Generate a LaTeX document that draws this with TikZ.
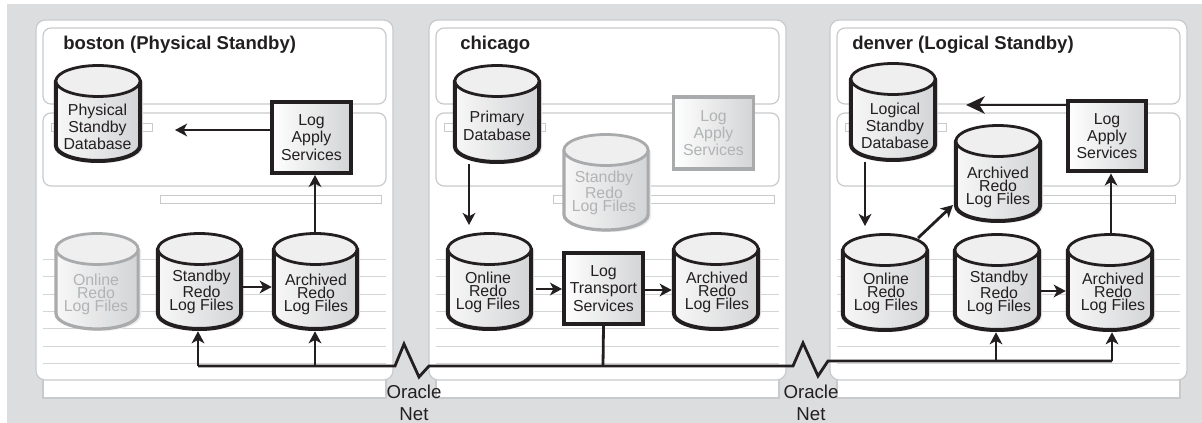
\documentclass[tikz,border=0pt]{standalone}
\usepackage{fontspec}
\setmainfont{Liberation Sans}
\usetikzlibrary{arrows.meta}
\definecolor{ink}{HTML}{231F20}
\definecolor{bgrey}{HTML}{DCDDDE}
\definecolor{edgegrey}{HTML}{C9CACC}
\definecolor{ghost}{HTML}{A9AAAC}
\definecolor{ghosttext}{HTML}{B2B3B5}
\definecolor{shadeend}{HTML}{D3D4D6}
\definecolor{captop}{HTML}{EFEFF0}
\tikzset{
  panelline/.style={draw=edgegrey,line width=0.9pt,fill=white},
  rowline/.style={draw=edgegrey!80,line width=0.7pt},
  titletext/.style={font=\fontsize{13.9}{16}\selectfont\bfseries,text=ink,anchor=west,inner sep=0pt},
  tight/.style={font=\fontsize{11.9}{9.7}\selectfont,align=center,inner sep=0pt,text=ink},
  loose/.style={font=\fontsize{11.9}{13}\selectfont,align=center,inner sep=0pt,text=ink},
  ghosted/.style={text=ghosttext},
  anchorbox/.style={inner sep=0pt,draw=none},
  svcbox/.style={draw=ink,line width=3.2pt,left color=white,right color=shadeend,inner sep=0pt,align=center,
     minimum width=59pt,minimum height=53pt,font=\fontsize{11.9}{13}\selectfont,text=ink},
  svcghost/.style={svcbox,draw=ghost,line width=2.4pt,text=ghosttext,minimum width=60pt,minimum height=54pt},
  conn/.style={draw=ink,line width=2.1pt,-{Stealth[length=9pt,width=9.5pt,inset=2.5pt]}},
  bigconn/.style={draw=ink,line width=2.1pt,-{Stealth[length=14pt,width=13pt,inset=4pt]}},
  plainconn/.style={draw=ink,line width=2.1pt,line join=miter},
  nettext/.style={font=\fontsize{14}{16.5}\selectfont,align=center,inner sep=0pt,text=ink},
}
% line width, left, top, right, bottom (outer edges), ink colour
\newcommand{\dbcyl}[6]{%
  \pgfmathsetmacro{\cylxa}{#2+1.9}\pgfmathsetmacro{\cylxb}{#4-1.9}
  \pgfmathsetmacro{\cylcx}{(#2+#4)/2}\pgfmathsetmacro{\cylrx}{(\cylxb-\cylxa)/2}
  \pgfmathsetmacro{\cylyt}{#3+17}\pgfmathsetmacro{\cylyb}{#5-17.5}
  \fill[black!8] (\cylxa+3,\cylyt+1) -- (\cylxa+3,\cylyb+2) arc[start angle=180,end angle=0,x radius=\cylrx,y radius=15.5] -- (\cylxb+3,\cylyt+1) -- cycle;
  \draw[#6,line width=#1,left color=white!97!black,right color=shadeend,line join=round]
    (\cylxa,\cylyt) -- (\cylxa,\cylyb) arc[start angle=180,end angle=0,x radius=\cylrx,y radius=15.5] -- (\cylxb,\cylyt) -- cycle;
  \draw[#6,line width=2.1pt,fill=captop] (\cylcx,\cylyt) ellipse[x radius=\cylrx,y radius=15.5];
}
\begin{document}
\begin{tikzpicture}[x=0.75pt,y=-0.75pt]
\useasboundingbox (0,0) rectangle (1202,423);
\fill[bgrey] (7,4) rectangle (1202,423);
% panels
\foreach \o in {0,393,794}{
  \begin{scope}[xshift=\o*0.75pt]
    \draw[draw=edgegrey,line width=1.1pt,fill=white] (43,370) rectangle (386,398);
    \draw[panelline,rounded corners=7pt] (36,20) rectangle (393,380);
    \draw[panelline,rounded corners=6pt] (43,28) rectangle (386,104);
    \draw[panelline,rounded corners=6pt] (43,113) rectangle (386,186);
    \draw[panelline,line width=0.7pt] (160,195) rectangle (381,203);
    \draw[panelline,line width=0.7pt] (51,123) rectangle (152,131);
    \foreach \y in {259,276.5,294,311,328.5,346,363.5}{\draw[rowline] (43,\y) -- (386,\y);}
  \end{scope}
}
% titles
\node[titletext] (t1) at (63,45) {boston (Physical Standby)};
\node[titletext] (t2) at (460,45) {chicago};
\node[titletext] (t3) at (852,45) {denver (Logical Standby)};

% boston cylinders
\dbcyl{3pt}{54}{64}{142}{163}{ink}
\node[anchorbox,minimum width=66pt,minimum height=74pt] (pdb) at (98,113.5) {};
\node[loose] (pdbt) at (97.5,127) {Physical\\Standby\\Database};
\dbcyl{2.4pt}{54}{232}{140}{331}{ghost}
\node[anchorbox,minimum width=64.5pt,minimum height=74pt] (bon) at (97,281.5) {};
\node[tight,ghosted] (bont) at (96,294) {Online\\Redo\\Log Files};
\dbcyl{3pt}{156}{232}{243}{331}{ink}
\node[anchorbox,minimum width=65.25pt,minimum height=74.25pt] (bsb) at (199.5,281.5) {};
\node[tight] (bsbt) at (201.5,291.5) {Standby\\Redo\\Log Files};
\dbcyl{3pt}{272}{232}{359}{331}{ink}
\node[anchorbox,minimum width=65.25pt,minimum height=74.25pt] (bar) at (315.5,281.5) {};
\node[tight] (bart) at (316,294) {Archived\\Redo\\Log Files};
\node[svcbox] (bla) at (311.5,137.5) {Log\\Apply\\Services};

% chicago
\dbcyl{3pt}{453}{64}{541}{164}{ink}
\node[anchorbox,minimum width=66pt,minimum height=75pt] (prim) at (497,114) {};
\node[loose] (primt) at (497,126) {Primary\\Database};
\dbcyl{2.4pt}{562}{133}{650}{232}{ghost}
\node[anchorbox,minimum width=66pt,minimum height=74.25pt] (csb) at (606,182.5) {};
\node[tight,ghosted] (csbt) at (604,193) {Standby\\Redo\\Log Files};
\node[svcghost] (cla) at (713.5,133) {Log\\Apply\\Services};
\dbcyl{3pt}{446}{232}{533}{331}{ink}
\node[anchorbox,minimum width=65.25pt,minimum height=74.25pt] (con) at (489.5,281.5) {};
\node[tight] (cont) at (488,292) {Online\\Redo\\Log Files};
\dbcyl{3pt}{672}{232}{760}{331}{ink}
\node[anchorbox,minimum width=66pt,minimum height=74.25pt] (car) at (716,281.5) {};
\node[tight] (cart) at (717,292) {Archived\\Redo\\Log Files};
\node[svcbox] (clt) at (603.5,288.5) {Log\\Transport\\Services};

% denver
\dbcyl{3pt}{849}{62}{937}{162}{ink}
\node[anchorbox,minimum width=66pt,minimum height=75pt] (ldb) at (893,112) {};
\node[loose] (ldbt) at (895,126) {Logical\\Standby\\Database};
\dbcyl{3pt}{954}{124}{1042}{223}{ink}
\node[anchorbox,minimum width=66pt,minimum height=74.25pt] (dau) at (998,173.5) {};
\node[tight] (daut) at (998,187) {Archived\\Redo\\Log Files};
\node[svcbox] (dla) at (1107,136) {Log\\Apply\\Services};
\dbcyl{3pt}{841}{233}{929}{332}{ink}
\node[anchorbox,minimum width=66pt,minimum height=74.25pt] (don) at (885,282.5) {};
\node[tight] (dont) at (886,293) {Online\\Redo\\Log Files};
\dbcyl{3pt}{953}{233}{1041}{332}{ink}
\node[anchorbox,minimum width=66pt,minimum height=74.25pt] (dsb) at (997,282.5) {};
\node[tight] (dsbt) at (999,293) {Standby\\Redo\\Log Files};
\dbcyl{3pt}{1066}{233}{1154}{332}{ink}
\node[anchorbox,minimum width=66pt,minimum height=74.25pt] (dar) at (1110,282.5) {};
\node[tight] (dart) at (1113,293) {Archived\\Redo\\Log Files};

% free ends and junctions
\coordinate (bwest) at (175,130);
\coordinate (dwest) at (966,105);
\coordinate (j1) at (198,366);
\coordinate (j2) at (315,366);
\coordinate (j3) at (603,366);
\coordinate (j4) at (996,361);
\coordinate (j5) at (1112,361);
\coordinate (z1) at (395,366);
\coordinate (z2) at (404,344);
\coordinate (z3) at (419,377);
\coordinate (z4) at (429,366);
\coordinate (z5) at (793,366);
\coordinate (z6) at (803,343);
\coordinate (z7) at (818,376);
\coordinate (z8) at (828,361);
\coordinate (h1) at (0,287);
\coordinate (h2) at (0,289);
\coordinate (h3) at (0,290);
\coordinate (h4) at (0,291);
\coordinate (v1) at (469,225);
\coordinate (v2) at (865,226);
\coordinate (v3) at (1111,0);
\coordinate (dg) at (953,205);
\coordinate (dg0) at (918,238);

% connectors
\draw[conn] (bla.west |- bwest) -- (bwest);
\draw[conn] (bar.north -| j2) -- (j2 |- bla.south);
\draw[conn] (bsb.east |- h1) -- (bar.west |- h1);
\draw[conn] (prim.south -| v1) -- (v1);
\draw[conn] ([xshift=2.25pt]con.east |- h2) -- (clt.west |- h2);
\draw[conn] (clt.east |- h3) -- (car.west |- h3);
\draw[plainconn,line join=miter] (j1) -- (z1) -- (z2) -- (z3) -- (z4) -- (z5) -- (z6) -- (z7) -- (z8) -- (j5);
\draw[plainconn] (clt.south) -- (j3);
\draw[conn] (j1) -- (j1 |- bsb.south);
\draw[conn] (j2) -- (j2 |- bar.south);
\draw[conn] (j4) -- (j4 |- dsb.south);
\draw[conn] (j5) -- (j5 |- dar.south);
\draw[bigconn] (dla.west |- dwest) -- (dwest);
\draw[conn] (dar.north -| v3) -- (v3 |- dla.south);
\draw[conn] (ldb.south -| v2) -- (v2);
\draw[conn] (dg0) -- (dg);
\draw[conn] (dsb.east |- h4) -- (dar.west |- h4);

% oracle net labels
\node[nettext] (on1) at (414,403) {Oracle\\Net};
\node[nettext] (on2) at (811,403) {Oracle\\Net};
\end{tikzpicture}
\end{document}
